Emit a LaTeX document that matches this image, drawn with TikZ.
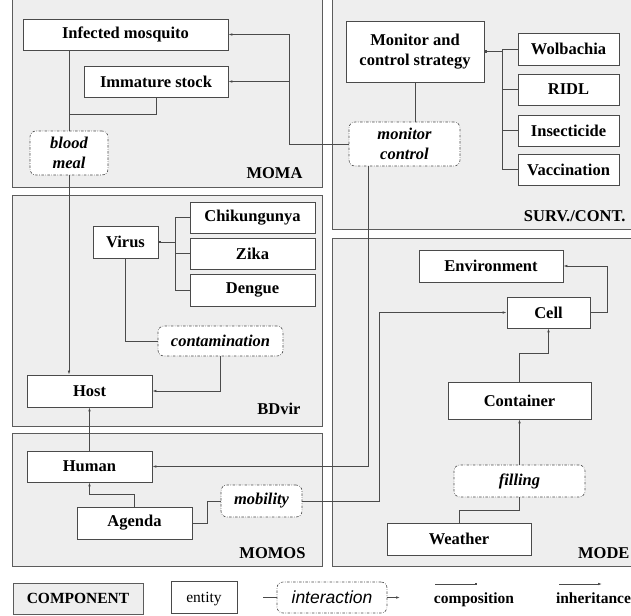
\documentclass[tikz,border=0pt]{standalone}
\usepackage{fontspec}
\setmainfont{Liberation Serif}
\setsansfont{Liberation Sans}
\usetikzlibrary{arrows.meta}
\definecolor{compfill}{HTML}{EEEEEE}
\definecolor{lineclr}{HTML}{4A4A4A}

\begin{document}
\begin{tikzpicture}[x=1pt,y=-1pt,
    dims/.style 2 args={minimum width=#1pt,minimum height=#2pt},
    component/.style={draw=lineclr!90,fill=compfill,line width=0.9pt},
    entity/.style={draw=lineclr,fill=white,line width=0.8pt,inner sep=0pt,
        font=\fontsize{16.5}{20}\selectfont\bfseries,align=center},
    interaction/.style={draw=lineclr,fill=white,
        dash pattern=on 2.5pt off 1.5pt on 0.6pt off 1.5pt,rounded corners=6pt,
        line width=0.6pt,inner sep=0pt,
        font=\fontsize{16.5}{20}\selectfont\bfseries\itshape,align=center},
    complabel/.style={font=\fontsize{16.5}{19}\selectfont\bfseries,anchor=base east},
    link/.style={draw=lineclr,line width=0.7pt},
    comp/.style={link,-{Square[length=2.2pt,width=2.2pt]}},
    inh/.style={link,-{Latex[length=4pt,width=2.6pt]}}]

\useasboundingbox (0,0) rectangle (631,615);

\draw[component] (12,-5) rectangle (322,187);
\draw[component] (332,-5) rectangle (640,229);
\draw[component] (12,195) rectangle (322,426);
\draw[component] (332,238) rectangle (640,566);
\draw[component] (12,433) rectangle (322,566);

\node[complabel] (lmoma) at (306,178) {MOMA};
\node[complabel] (lsurv) at (629,221) {SURV./CONT.};
\node[complabel] (lbdvir) at (304,414) {BDvir};
\node[complabel] (lmomos) at (309,558) {MOMOS};
\node[complabel] (lmode) at (633,558) {MODE};

\node[entity,dims={205}{31}] (infmos) at (125.5,34.5) {Infected mosquito};
\node[entity,dims={144}{31}] (immat) at (156,81.5) {Immature stock};
\node[interaction,dims={78}{44}] (blood) at (69,153) {blood\\meal};

\node[entity,dims={138}{61}] (mcs) at (415,51.5) {Monitor and\\control strategy};
\node[entity,dims={101}{32}] (wolb) at (568.5,49) {Wolbachia};
\node[entity,dims={101}{31}] (ridl) at (568.5,89.5) {RIDL};
\node[entity,dims={101}{31}] (insect) at (568.5,130.5) {Insecticide};
\node[entity,dims={101}{31}] (vacc) at (568.5,169.5) {Vaccination};
\node[interaction,dims={111}{44}] (monctl) at (404.5,144) {monitor\\control};

\node[entity,dims={65}{32}] (virus) at (125.5,242) {Virus};
\node[entity,dims={125}{31}] (chik) at (252.5,217.5) {Chikungunya};
\node[entity,dims={125}{31}] (zika) at (252.5,253.5) {Zika};
\node[entity,dims={125}{32}] (dengue) at (252.5,290) {Dengue};
\node[interaction,dims={125}{30}] (contam) at (220.5,341) {contamination};
\node[entity,dims={125}{32}] (host) at (89.5,391) {Host};

\node[entity,dims={125}{31}] (human) at (89.5,466.5) {Human};
\node[entity,dims={115}{32}] (agenda) at (134.5,523) {Agenda};
\node[interaction,dims={81}{32}] (mobil) at (261.5,501) {mobility};

\node[entity,dims={144}{32}] (env) at (491,266) {Environment};
\node[entity,dims={83}{31}] (cell) at (548.5,312.5) {Cell};
\node[entity,dims={143}{37}] (contain) at (519.5,400.5) {Container};
\node[interaction,dims={131}{32}] (filling) at (519.5,481) {filling};
\node[entity,dims={144}{32}] (weather) at (459,539) {Weather};

\coordinate (jblood) at (69,114);
\coordinate (jmon) at (289,144);
\coordinate (jhum) at (368,466.5);
\coordinate (jmob) at (379,501);
\coordinate (jvir) at (175,242);
\coordinate (jsurv) at (502,51.5);

\draw[link] (blood.north |- infmos.south) -- (blood.north);
\draw[link] (immat.south) |- (jblood);
\draw[inh] (blood.south) -- (blood.south |- host.north);
\draw[inh] (monctl.west) -- (jmon) |- (infmos.east);
\draw[inh] (jmon |- immat.east) -- (immat.east);
\draw[link] (mcs.south) -- (mcs.south |- monctl.north);
\draw[inh] (jhum |- monctl.south) -- (jhum) -- (human.east);
\draw[inh] (mobil.east) -- (jmob) |- (cell.west);
\draw[link] (agenda.east) -- ++(15,0) |- (mobil.west);
\draw[inh] (agenda.north) -- ++(0,-12) -| (human.south);
\draw[inh] (human.north) -- (host.south);
\draw[link] (virus.south) |- (contam.west);
\draw[inh] (contam.south) |- (host.east);
\foreach \n in {chik,zika,dengue}
    \draw[link] (\n.west) -| (jvir);
\draw[comp] (jvir) -- (virus.east);
\foreach \n in {wolb,ridl,insect,vacc}
    \draw[link] (\n.west) -| (jsurv);
\draw[comp] (jsurv) -- (mcs.east);
\draw[inh] (cell.east) -- ++(17,0) |- (env.east);
\draw[inh] (contain.north) -- ++(0,-28) -| (cell.south);
\draw[inh] (filling.north) -- (contain.south);
\draw[link] (filling.south) -- ++(0,13) -| (weather.north);

\node[component,inner sep=0pt,dims={130}{31},font=\fontsize{15.5}{18}\selectfont\bfseries]
    (lcomp) at (78,598.5) {COMPONENT};
\node[entity,dims={66}{32},text depth=0pt,font=\fontsize{15.5}{18}\selectfont]
    (lent) at (204,597) {entity};
\node[interaction,dims={110}{31},font=\fontsize{17.5}{20}\selectfont\sffamily\itshape]
    (linter) at (332,597.5) {interaction};
\coordinate (lin1) at (263,597.5);
\coordinate (lin2) at (400,597.5);
\draw[link] (lin1) -- (linter.west);
\draw[inh] (linter.east) -- (lin2);
\coordinate (lc1) at (435,584);
\coordinate (lc2) at (477,584);
\draw[comp] (lc1) -- (lc2);
\node[font=\fontsize{15.5}{18}\selectfont\bfseries,anchor=base] (lcomptxt) at (474,603) {composition};
\coordinate (li1) at (559,584);
\coordinate (li2) at (602,584);
\draw[inh] (li1) -- (li2);
\node[font=\fontsize{15.5}{18}\selectfont\bfseries,anchor=base] (linhtxt) at (593.5,603) {inheritance};
\end{tikzpicture}
\end{document}
